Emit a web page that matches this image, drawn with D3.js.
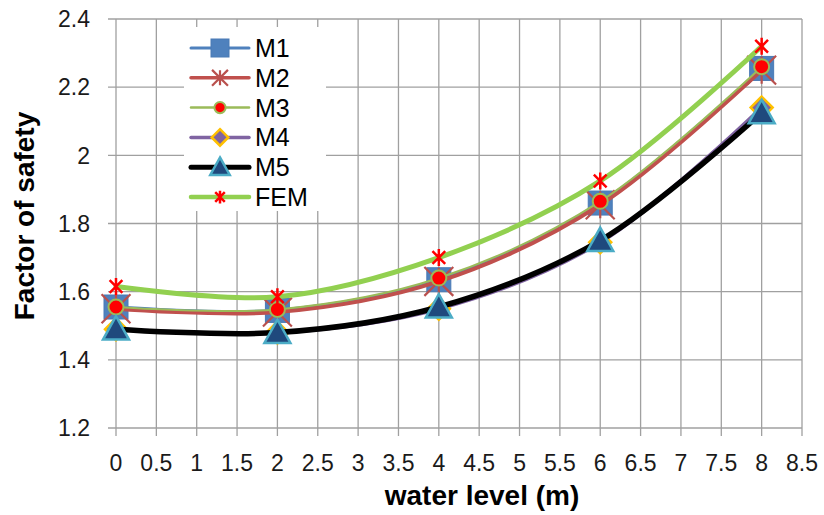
<!DOCTYPE html>
<html><head><meta charset="utf-8">
<script src="https://cdn.jsdelivr.net/npm/d3@7"></script>
<style>body{margin:0;background:#fff}svg{display:block}</style>
</head><body>
<svg id="c" width="824" height="515"></svg>
<script>
const waterLevel = [0, 2, 4, 6, 8];
const seriesNames = ["M1", "M2", "M3", "M4", "M5", "FEM"];
const m1 = [1.555, 1.545, 1.635, 1.860, 2.255];
const m2 = [1.550, 1.540, 1.630, 1.855, 2.250];
const m3 = [1.555, 1.548, 1.640, 1.865, 2.260];
const m4 = [1.490, 1.480, 1.550, 1.745, 2.140];
const m5 = [1.490, 1.480, 1.555, 1.750, 2.125];
const fem = [1.615, 1.585, 1.700, 1.925, 2.320];
const xTicks = [0,0.5,1,1.5,2,2.5,3,3.5,4,4.5,5,5.5,6,6.5,7,7.5,8,8.5];
const yTicks = [1.2,1.4,1.6,1.8,2.0,2.2,2.4];

const values = [m1, m2, m3, m4, m5, fem];
const styles = [
  {line:"#4F81BD", w:3.5, marker:"square", fill:"#4F81BD", stroke:"#4A7AB5", size:24},
  {line:"#C0504D", w:4, marker:"asterisk", fill:"none", stroke:"#B9504D", size:34, sw:2.2},
  {line:"#9BBB59", w:2, marker:"circle", fill:"#FF0000", stroke:"#9BBB59", size:15, sw:2},
  {line:"#8064A2", w:4, marker:"diamond", fill:"#8064A2", stroke:"#FFC000", size:22, sw:2.5},
  {line:"#000000", w:5.5, marker:"triangle", fill:"#1F497D", stroke:"#4BACC6", size:26, sw:2.5},
  {line:"#92D050", w:5, marker:"star", fill:"none", stroke:"#FF0000", size:17, sw:2.5}
];

const svg = d3.select("#c");
const x = d3.scaleLinear().domain([0, 8.5]).range([116, 802]);
const y = d3.scaleLinear().domain([1.2, 2.4]).range([428, 19]);
const font = "'Liberation Sans', Arial, sans-serif";
const gridColor = "#A0A0A0";

// gridlines
svg.append("g").selectAll("line").data(yTicks).join("line")
  .attr("x1", x(0) - 8).attr("x2", x(8.5)).attr("y1", d => y(d)).attr("y2", d => y(d))
  .attr("stroke", gridColor).attr("stroke-width", 1.3);
svg.append("g").selectAll("line").data(xTicks).join("line")
  .attr("y1", y(2.4)).attr("y2", y(1.2) + 8).attr("x1", d => x(d)).attr("x2", d => x(d))
  .attr("stroke", gridColor).attr("stroke-width", 1.3);

// tick labels
svg.append("g").selectAll("text").data(yTicks).join("text")
  .attr("x", 90).attr("y", d => y(d)).attr("dy", "0.36em")
  .attr("text-anchor", "end").attr("font-family", font).attr("font-size", 23).attr("fill", "#1a1a1a")
  .text(d => String(+d.toFixed(1)));
svg.append("g").selectAll("text").data(xTicks).join("text")
  .attr("x", d => x(d)).attr("y", 471)
  .attr("text-anchor", "middle").attr("font-family", font).attr("font-size", 23).attr("fill", "#1a1a1a")
  .text(d => String(d));

// titles
svg.append("text").attr("x", 482).attr("y", 505).attr("text-anchor", "middle")
  .attr("font-family", font).attr("font-weight", "bold").attr("font-size", 28).attr("fill", "#000")
  .text("water level (m)");
svg.append("text").attr("transform", "translate(34,216) rotate(-90)").attr("text-anchor", "middle")
  .attr("font-family", font).attr("font-weight", "bold").attr("font-size", 28).attr("fill", "#000")
  .text("Factor of safety");

function drawMarker(g, type, st, cx, cy) {
  const s = st.size, h = s / 2;
  if (type === "square") {
    g.append("rect").attr("x", cx - h).attr("y", cy - h).attr("width", s).attr("height", s)
      .attr("fill", st.fill).attr("stroke", st.stroke).attr("stroke-width", 1);
  } else if (type === "circle") {
    g.append("circle").attr("cx", cx).attr("cy", cy).attr("r", h)
      .attr("fill", st.fill).attr("stroke", st.stroke).attr("stroke-width", st.sw);
  } else if (type === "diamond") {
    g.append("path").attr("d", `M${cx},${cy-h}L${cx+h},${cy}L${cx},${cy+h}L${cx-h},${cy}Z`)
      .attr("fill", st.fill).attr("stroke", st.stroke).attr("stroke-width", st.sw);
  } else if (type === "triangle") {
    g.append("path").attr("d", `M${cx},${cy-h}L${cx+h},${cy+h*0.8}L${cx-h},${cy+h*0.8}Z`)
      .attr("fill", st.fill).attr("stroke", st.stroke).attr("stroke-width", st.sw);
  } else if (type === "asterisk" || type === "star") {
    const a = h * (type === "asterisk" ? 0.85 : 0.75);
    const v = h * (type === "asterisk" ? 0.8 : 1);
    g.append("path").attr("d",
      `M${cx-a},${cy-a}L${cx+a},${cy+a}M${cx+a},${cy-a}L${cx-a},${cy+a}M${cx},${cy-v}L${cx},${cy+v}`)
      .attr("fill", "none").attr("stroke", st.stroke).attr("stroke-width", st.sw);
  }
}

// series
const line = d3.line().x(d => x(d[0])).y(d => y(d[1])).curve(d3.curveCatmullRom.alpha(0.5));
values.forEach((vals, i) => {
  const st = styles[i];
  const g = svg.append("g");
  const pts = waterLevel.map((w, j) => [w, vals[j]]);
  g.append("path").attr("d", line(pts)).attr("fill", "none")
    .attr("stroke", st.line).attr("stroke-width", st.w).attr("stroke-linecap", "round");
  pts.forEach(p => drawMarker(g, st.marker, st, x(p[0]), y(p[1])));
});

// legend
const lg = svg.append("g");
lg.append("rect").attr("x", 184).attr("y", 27).attr("width", 142).attr("height", 184).attr("fill", "#fff");
seriesNames.forEach((name, i) => {
  const st = styles[i];
  const cy = 48 + i * 29.8;
  const g = lg.append("g");
  g.append("line").attr("x1", 191).attr("x2", 249).attr("y1", cy).attr("y2", cy)
    .attr("stroke", st.line).attr("stroke-width", Math.max(st.w - 0.5, 2.5)).attr("stroke-linecap", "round");
  const ms = Object.assign({}, st, {size: st.size * (st.marker === "asterisk" ? 0.55 : 0.75)});
  drawMarker(g, st.marker, ms, 220, cy);
  g.append("text").attr("x", 255).attr("y", cy).attr("dy", "0.36em")
    .attr("font-family", font).attr("font-size", 25).attr("fill", "#000").text(name);
});
</script>
</body></html>
